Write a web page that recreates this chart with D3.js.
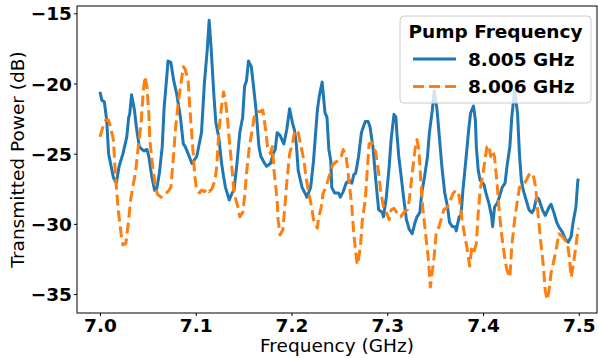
<!DOCTYPE html>
<html>
<head>
<meta charset="utf-8">
<script src="https://cdn.jsdelivr.net/npm/d3@7"></script>
<style>
  body { margin: 0; background: #fff; }
  text { font-family: "DejaVu Sans", sans-serif; }
</style>
</head>
<body>
<svg id="chart" width="599" height="358"></svg>
<script>
// pump 8.005 GHz trace
var freqA = [7.000,7.002,7.0045,7.007,7.009,7.014,7.017,7.020,7.024,7.028,7.030,7.031,7.033,7.036,7.038,7.041,7.044,7.046,7.049,7.051,
  7.054,7.057,7.059,7.062,7.065,7.067,7.070,7.071,7.074,7.077,7.080,7.084,7.087,7.089,7.092,7.096,7.098,7.101,7.106,7.109,
  7.112,7.114,7.116,7.119,7.121,7.124,7.127,7.129,7.131,7.135,7.138,7.140,7.143,7.146,7.149,7.151,7.153,7.155,7.158,7.160,
  7.163,7.166,7.168,7.172,7.174,7.178,7.181,7.183,7.185,7.188,7.192,7.195,7.198,7.201,7.203,7.205,7.207,7.211,7.214,7.216,
  7.220,7.223,7.227,7.229,7.232,7.235,7.237,7.239,7.241,7.242,7.245,7.249,7.251,7.254,7.257,7.260,7.263,7.265,7.267,7.270,
  7.273,7.275,7.277,7.280,7.282,7.285,7.288,7.291,7.295,7.296,7.299,7.302,7.304,7.307,7.309,7.310,7.312,7.315,7.317,7.320,
  7.323,7.326,7.329,7.331,7.334,7.336,7.339,7.342,7.344,7.347,7.349,7.352,7.355,7.357,7.360,7.363,7.365,7.368,7.371,7.372,
  7.375,7.377,7.379,7.382,7.385,7.387,7.390,7.392,7.393,7.395,7.397,7.401,7.403,7.406,7.409,7.410,7.412,7.415,7.417,7.420,
  7.423,7.425,7.428,7.430,7.433,7.436,7.438,7.440,7.442,7.445,7.448,7.451,7.453,7.456,7.458,7.462,7.465,7.469,7.471,7.474,
  7.477,7.479,7.483,7.486,7.489,7.492,7.494,7.497,7.499,7.500];
var powerA = [-20.6,-21.2,-21.3,-22.6,-25.0,-26.7,-27.1,-25.9,-25.0,-23.8,-22.4,-22.2,-20.8,-21.9,-23.1,-24.5,-24.7,-24.8,-24.7,-25.2,
  -26.6,-27.6,-27.6,-26.4,-24.5,-21.7,-19.3,-18.4,-18.5,-19.8,-20.7,-22.4,-24.3,-24.5,-25.0,-25.7,-25.5,-25.2,-23.5,-20.0,
  -17.6,-15.5,-17.4,-20.9,-22.8,-23.8,-25.7,-26.6,-27.4,-28.3,-27.8,-27.6,-25.7,-23.5,-22.4,-20.2,-19.8,-18.4,-18.8,-20.0,
  -21.9,-24.5,-25.2,-25.7,-25.9,-25.7,-25.0,-24.7,-23.5,-23.7,-24.3,-23.3,-21.8,-22.8,-23.3,-24.3,-26.2,-27.4,-27.8,-28.1,
  -27.4,-25.5,-21.9,-20.9,-19.9,-22.1,-22.4,-24.7,-25.5,-27.4,-27.8,-27.8,-28.1,-27.7,-27.1,-26.9,-27.1,-26.5,-26.4,-25.2,
  -23.5,-23.1,-22.7,-22.7,-23.1,-24.5,-26.9,-29.0,-29.2,-29.5,-28.1,-25.9,-24.0,-22.2,-22.4,-23.5,-25.2,-26.9,-28.1,-29.7,
  -30.4,-30.7,-29.9,-29.5,-29.2,-27.8,-26.6,-25.2,-23.5,-21.9,-20.5,-21.9,-24.3,-25.9,-27.8,-28.8,-29.9,-30.2,-30.2,-30.5,
  -29.5,-29.4,-27.6,-25.5,-23.3,-22.1,-21.6,-22.6,-24.5,-26.2,-26.9,-27.2,-27.8,-28.5,-29.5,-30.2,-28.8,-28.5,-28.1,-27.4,
  -27.1,-25.9,-24.5,-22.4,-20.5,-22.1,-25.0,-26.9,-27.6,-28.3,-29.0,-29.2,-29.0,-28.1,-28.2,-29.0,-29.4,-28.8,-28.6,-29.2,
  -29.9,-30.2,-30.6,-31.1,-31.3,-30.9,-29.9,-28.8,-26.9,-26.8];

// pump 8.006 GHz trace
var freqB = [7.000,7.003,7.006,7.009,7.011,7.014,7.016,7.019,7.022,7.024,7.027,7.030,7.032,7.035,7.037,7.040,7.043,7.045,7.047,7.049,
  7.051,7.052,7.055,7.058,7.060,7.064,7.066,7.069,7.071,7.074,7.077,7.079,7.082,7.085,7.087,7.089,7.092,7.094,7.097,7.099,
  7.101,7.104,7.106,7.109,7.112,7.114,7.117,7.120,7.122,7.124,7.127,7.129,7.131,7.133,7.135,7.138,7.140,7.144,7.146,7.149,
  7.151,7.153,7.156,7.159,7.161,7.164,7.167,7.170,7.173,7.175,7.178,7.180,7.182,7.185,7.186,7.188,7.191,7.193,7.195,7.198,
  7.201,7.203,7.205,7.207,7.210,7.213,7.215,7.218,7.221,7.223,7.227,7.228,7.231,7.233,7.236,7.238,7.241,7.243,7.246,7.249,
  7.252,7.254,7.257,7.260,7.263,7.265,7.268,7.269,7.272,7.274,7.277,7.281,7.284,7.288,7.291,7.293,7.296,7.299,7.302,7.304,
  7.307,7.310,7.314,7.317,7.321,7.323,7.326,7.329,7.331,7.333,7.335,7.337,7.340,7.343,7.345,7.349,7.351,7.354,7.357,7.359,
  7.363,7.366,7.369,7.372,7.375,7.378,7.3815,7.383,7.386,7.388,7.390,7.393,7.395,7.397,7.400,7.402,7.404,7.406,7.408,7.410,
  7.412,7.415,7.417,7.420,7.423,7.425,7.428,7.430,7.433,7.436,7.438,7.441,7.445,7.448,7.452,7.455,7.457,7.460,7.463,7.465,
  7.467,7.469,7.471,7.474,7.477,7.479,7.483,7.485,7.488,7.490,7.492,7.494,7.497,7.499,7.500];
var powerB = [-23.8,-23.1,-22.6,-22.6,-23.1,-24.0,-26.4,-29.0,-30.7,-31.5,-31.4,-29.7,-28.3,-27.1,-26.4,-24.5,-22.8,-20.7,-19.5,-20.2,
  -22.1,-24.0,-25.9,-27.4,-27.9,-28.1,-27.9,-27.8,-27.7,-27.4,-25.0,-23.1,-21.2,-19.8,-18.8,-19.0,-19.8,-21.9,-24.7,-26.6,
  -27.6,-27.8,-27.6,-27.7,-27.5,-27.7,-27.5,-26.9,-25.9,-23.5,-21.6,-20.6,-21.2,-22.4,-24.0,-26.2,-27.8,-28.8,-29.5,-29.2,
  -28.1,-26.4,-24.5,-23.3,-22.4,-22.0,-22.0,-21.9,-23.3,-24.5,-25.0,-24.5,-26.4,-28.3,-29.7,-30.8,-30.4,-28.8,-27.1,-25.0,
  -24.3,-23.5,-23.3,-23.5,-24.5,-25.5,-26.6,-27.8,-28.8,-29.7,-30.3,-29.7,-28.8,-27.8,-27.4,-26.9,-26.2,-25.8,-25.6,-25.5,
  -25.2,-24.7,-25.2,-26.9,-28.8,-30.7,-32.6,-32.9,-31.6,-29.7,-28.3,-24.3,-24.2,-24.9,-26.4,-27.6,-28.8,-29.2,-29.7,-29.0,
  -28.9,-29.2,-29.5,-29.2,-29.0,-28.3,-26.4,-24.7,-24.0,-24.7,-26.9,-28.8,-30.7,-32.6,-34.5,-32.3,-30.7,-30.2,-29.5,-29.0,
  -28.8,-28.3,-27.8,-27.6,-28.0,-29.7,-31.1,-31.6,-33.0,-31.8,-32.1,-31.4,-29.2,-27.6,-26.4,-25.5,-24.5,-24.4,-25.2,-24.8,
  -25.2,-27.4,-29.2,-31.1,-32.6,-33.3,-33.8,-31.6,-29.7,-28.3,-27.4,-27.4,-26.9,-26.5,-26.4,-27.4,-29.0,-31.1,-33.0,-34.8,
  -35.4,-34.7,-33.5,-32.6,-31.6,-30.7,-30.9,-31.1,-31.4,-32.3,-33.8,-33.0,-31.6,-30.4,-30.3];

var xTicks = [7.0, 7.1, 7.2, 7.3, 7.4, 7.5];
var yTicks = [-15, -20, -25, -30, -35];
var seriesNames = ["8.005 GHz", "8.006 GHz"];
var seriesColors = ["#1f77b4", "#ff7f0e"];

var svg = d3.select("#chart");
var plotLeft = 77, plotRight = 597, plotTop = 6, plotBottom = 313;

var x = d3.scaleLinear().domain([6.976, 7.519]).range([plotLeft, plotRight]);
var y = d3.scaleLinear().domain([-36.35, -14.48]).range([plotBottom, plotTop]);

var fmtY = function(d) { return d3.format("d")(d).replace("-", "\u2212"); };

// axes
var xAxis = svg.append("g")
    .attr("transform", "translate(0," + plotBottom + ")")
    .call(d3.axisBottom(x).tickValues(xTicks).tickFormat(d3.format(".1f")).tickSize(3).tickPadding(3));
var yAxis = svg.append("g")
    .attr("transform", "translate(" + plotLeft + ",0)")
    .call(d3.axisLeft(y).tickValues(yTicks).tickFormat(fmtY).tickSize(3).tickPadding(2));

[xAxis, yAxis].forEach(function(g) {
  g.select(".domain").remove();
  g.selectAll(".tick line").attr("stroke", "#000").attr("stroke-width", 1);
  g.selectAll(".tick text")
    .attr("fill", "#000")
    .style("font-family", "DejaVu Sans")
    .style("font-weight", "bold")
    .style("font-size", "18.5px");
});
yAxis.selectAll(".tick text").attr("dy", "0.36em");

var series = [
  freqA.map(function(f, i) { return [f, powerA[i]]; }),
  freqB.map(function(f, i) { return [f, powerB[i]]; })
];

var line = d3.line()
    .x(function(d) { return x(d[0]); })
    .y(function(d) { return y(d[1]); });

svg.selectAll(".trace")
  .data(series)
  .enter()
  .append("path")
  .attr("class", "trace")
  .attr("d", line)
  .attr("fill", "none")
  .attr("stroke", function(d, i) { return seriesColors[i]; })
  .attr("stroke-width", 3)
  .attr("stroke-linejoin", "round")
  .attr("stroke-dasharray", function(d, i) { return i === 1 ? "11,5" : null; });

// frame
svg.append("rect")
  .attr("x", plotLeft).attr("y", plotTop)
  .attr("width", plotRight - plotLeft).attr("height", plotBottom - plotTop)
  .attr("fill", "none").attr("stroke", "#000").attr("stroke-width", 1);

// axis labels
svg.append("text")
  .attr("x", (plotLeft + plotRight) / 2).attr("y", 352)
  .attr("text-anchor", "middle")
  .style("font-size", "18.5px")
  .text("Frequency (GHz)");
svg.append("text")
  .attr("transform", "translate(24," + (plotTop + plotBottom) / 2 + ") rotate(-90)")
  .attr("text-anchor", "middle")
  .style("font-size", "18.5px")
  .text("Transmitted Power (dB)");

// legend
var legend = svg.append("g");
legend.append("rect")
  .attr("x", 400).attr("y", 16).attr("width", 191).attr("height", 87)
  .attr("rx", 4)
  .attr("fill", "#fff").attr("fill-opacity", 0.8)
  .attr("stroke", "#cccccc").attr("stroke-width", 1);
legend.append("text")
  .attr("x", 495.5).attr("y", 38)
  .attr("text-anchor", "middle")
  .style("font-weight", "bold").style("font-size", "18.5px")
  .text("Pump Frequency");
seriesNames.forEach(function(name, i) {
  var ly = 59 + i * 27.5;
  legend.append("line")
    .attr("x1", 413).attr("x2", 456).attr("y1", ly).attr("y2", ly)
    .attr("stroke", seriesColors[i]).attr("stroke-width", 3)
    .attr("stroke-dasharray", i === 1 ? "11,5" : null);
  legend.append("text")
    .attr("x", 468).attr("y", ly + 6.5)
    .style("font-weight", "bold").style("font-size", "18.5px")
    .text(name);
});
</script>
</body>
</html>
